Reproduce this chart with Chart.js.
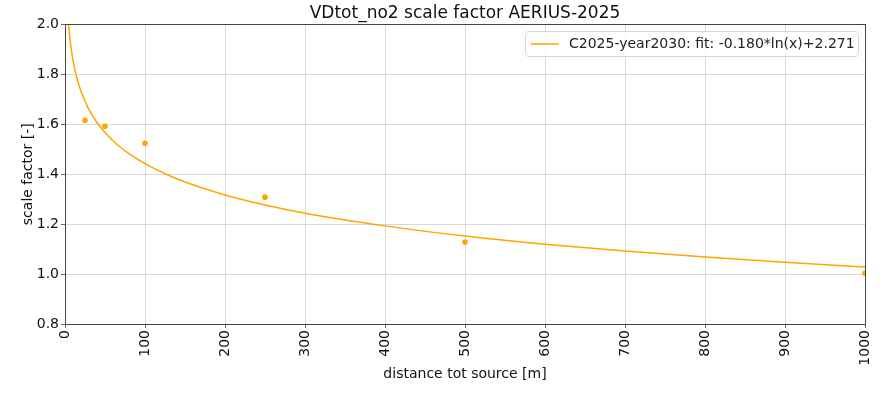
<!DOCTYPE html>
<html>
<head>
<meta charset="utf-8">
<script src="https://cdn.jsdelivr.net/npm/chart.js@4.4.0/dist/chart.umd.min.js"></script>
<style>
  html, body { margin: 0; padding: 0; background: #fff; }
  #wrap { width: 894px; height: 396px; }
</style>
</head>
<body>
<div id="wrap"><canvas id="chart"></canvas></div>
<script>
// measured points (distance [m] -> scale factor)
const distances = [25, 50, 100, 250, 500, 1000];
const factors = [1.616, 1.592, 1.524, 1.308, 1.128, 1.003];

// fit curve
const fitX = [3, 4, 5, 6, 8, 10, 13, 16, 20, 25, 30, 40, 50, 60, 70, 80, 100, 125, 150, 200, 250, 300, 400, 500, 600, 700, 800, 900, 1000];
const fitY = [2.07, 2.02, 1.981, 1.949, 1.897, 1.857, 1.809, 1.772, 1.732, 1.692, 1.659, 1.607, 1.567, 1.534, 1.506, 1.482, 1.442, 1.402, 1.369, 1.317, 1.277, 1.244, 1.193, 1.152, 1.119, 1.092, 1.068, 1.047, 1.028];

const fitLabel = 'C2025-year2030: fit: -0.180*ln(x)+2.271';
const xTicks = [0, 100, 200, 300, 400, 500, 600, 700, 800, 900, 1000];
const yTicks = [0.8, 1.0, 1.2, 1.4, 1.6, 1.8, 2.0];

const orange = '#ffa500';
const fontFamily = '"DejaVu Sans", sans-serif';

// top/right spines + matplotlib style legend box
const framePlugin = {
    id: 'frame',
    afterDraw(chart) {
        const ctx = chart.ctx;
        const a = chart.chartArea;
        ctx.save();
        ctx.strokeStyle = '#444';
        ctx.lineWidth = 1;
        ctx.strokeRect(Math.round(a.left) + 0.5, Math.round(a.top) + 0.5,
            Math.round(a.right - a.left), Math.round(a.bottom - a.top));

        // legend
        const bx = 525.5, by = 31.5, bw = 333, bh = 25;
        ctx.fillStyle = 'rgba(255,255,255,0.8)';
        ctx.strokeStyle = '#d6d6d6';
        ctx.beginPath();
        ctx.roundRect(bx, by, bw, bh, 3);
        ctx.fill();
        ctx.stroke();
        ctx.strokeStyle = orange;
        ctx.lineWidth = 1.5;
        ctx.beginPath();
        ctx.moveTo(531, 44);
        ctx.lineTo(559, 44);
        ctx.stroke();
        ctx.fillStyle = '#222';
        ctx.font = '14px ' + fontFamily;
        ctx.textBaseline = 'middle';
        ctx.fillText(fitLabel, 569, 44);
        ctx.restore();
    }
};

const ctx = document.getElementById('chart').getContext('2d');
new Chart(ctx, {
    type: 'scatter',
    data: {
        datasets: [
            {
                label: fitLabel,
                data: fitX.map((x, i) => ({ x: x, y: fitY[i] })),
                showLine: true,
                borderColor: orange,
                borderWidth: 1.5,
                pointRadius: 0,
                cubicInterpolationMode: 'monotone',
                order: 2
            },
            {
                label: 'data',
                data: distances.map((x, i) => ({ x: x, y: factors[i] })),
                backgroundColor: orange,
                borderColor: orange,
                pointRadius: 2.8,
                borderWidth: 0,
                order: 1
            }
        ]
    },
    options: {
        responsive: true,
        maintainAspectRatio: false,
        animation: false,
        layout: { padding: { left: 0, right: 29, top: 0, bottom: 0 } },
        plugins: {
            legend: { display: false },
            tooltip: { enabled: false },
            title: {
                display: true,
                text: 'VDtot_no2 scale factor AERIUS-2025',
                fullSize: false,
                color: '#111',
                font: { family: fontFamily, size: 17, weight: 'normal' },
                padding: { top: 3, bottom: 1 }
            }
        },
        scales: {
            x: {
                type: 'linear',
                min: 0,
                max: 1000,
                afterFit(scale) { scale.height = 72; },
                afterBuildTicks(scale) { scale.ticks = xTicks.map(v => ({ value: v })); },
                ticks: {
                    color: '#111',
                    font: { family: fontFamily, size: 14 },
                    minRotation: 90,
                    maxRotation: 90,
                    padding: 2,
                    callback: v => String(v)
                },
                grid: { color: '#cfcfcf', lineWidth: 0.8, tickColor: '#444', tickLength: 4 },
                border: { color: '#444', width: 1 },
                title: {
                    display: true,
                    text: 'distance tot source [m]',
                    color: '#111',
                    font: { family: fontFamily, size: 14 },
                    padding: { top: 0, bottom: 13 }
                }
            },
            y: {
                type: 'linear',
                min: 0.8,
                max: 2.0,
                afterFit(scale) { scale.width = 65; },
                afterBuildTicks(scale) { scale.ticks = yTicks.map(v => ({ value: v })); },
                ticks: {
                    color: '#111',
                    font: { family: fontFamily, size: 14 },
                    padding: 2,
                    callback: v => v.toFixed(1)
                },
                grid: { color: '#cfcfcf', lineWidth: 0.8, tickColor: '#444', tickLength: 4 },
                border: { color: '#444', width: 1 },
                title: {
                    display: true,
                    text: 'scale factor [-]',
                    color: '#111',
                    font: { family: fontFamily, size: 14 },
                    padding: { top: 20, bottom: 0 }
                }
            }
        }
    },
    plugins: [framePlugin]
});
</script>
</body>
</html>
